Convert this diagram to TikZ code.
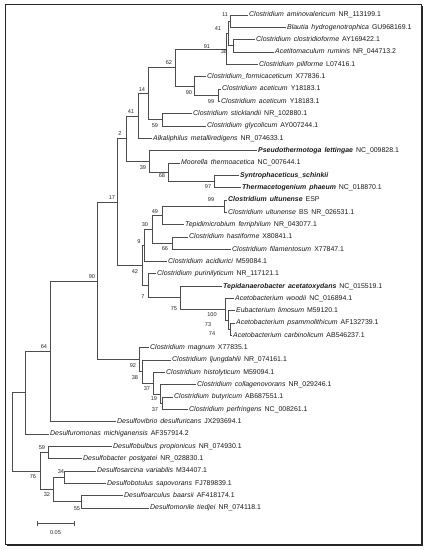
\documentclass[tikz,border=0pt]{standalone}
\usepackage{fontspec}
\setmainfont{Liberation Sans}
\newcommand\leaffont{\fontsize{6.95}{8}\selectfont\spaceskip 3pt plus 1pt minus 0.5pt\relax}
\begin{document}
\begin{tikzpicture}[x=1pt,y=-1pt,
  declare function={yy(\i)=15+(\i-1)*12.325;},
  br/.style={draw=black!70, line width=0.7pt},
  leaf/.style={anchor=west, inner sep=1.5pt, text height=5pt, text depth=1.3pt, font=\leaffont, text=black!90},
  bs/.style={inner sep=0pt, font=\fontsize{5.6}{6}\selectfont, text=black!85}]
\newcommand\mybr[2]{\draw[br] (#1) |- (#2);}
\useasboundingbox (0,0) rectangle (426,550);
\draw[line width=0.8pt, black!85] (5,4) rectangle (421,544);
\draw[line width=1pt, black!85] (422,6) -- (422,545) -- (7,545);
% leaves
\node[leaf] (l1) at (247.5,{yy(1)}) {\textit{Clostridium aminovalericum} NR\_113199.1};
\node[leaf] (l2) at (285.5,{yy(2)}) {\textit{Blautia hydrogenotrophica} GU968169.1};
\node[leaf] (l3) at (254.5,{yy(3)}) {\textit{Clostridium clostridioforme} AY169422.1};
\node[leaf] (l4) at (273.5,{yy(4)}) {\textit{Acetitomaculum ruminis} NR\_044713.2};
\node[leaf] (l5) at (257.5,{yy(5)}) {\textit{Clostridium piliforme} L07416.1};
\node[leaf] (l6) at (205.5,{yy(6)}) {\textit{Clostridium\_formicaceticum} X77836.1};
\node[leaf] (l7) at (220.5,{yy(7)}) {\textit{Clostridium aceticum} Y18183.1};
\node[leaf] (l8) at (219.5,{yy(8)}) {\textit{Clostridium aceticum} Y18183.1};
\node[leaf] (l9) at (191.5,{yy(9)}) {\textit{Clostridium sticklandii} NR\_102880.1};
\node[leaf] (l10) at (205.5,{yy(10)}) {\textit{Clostridium glycolicum} AY007244.1};
\node[leaf] (l11) at (151.5,{yy(11)}) {\textit{Alkaliphilus metalliredigens} NR\_074633.1};
\node[leaf] (l12) at (256.5,{yy(12)}) {\textbf{\textit{Pseudothermotoga lettingae}} NC\_009828.1};
\node[leaf] (l13) at (179.5,{yy(13)}) {\textit{Moorella thermoacetica} NC\_007644.1};
\node[leaf] (l14) at (238.5,{yy(14)}) {\textbf{\textit{Syntrophaceticus\_schinkii}}};
\node[leaf] (l15) at (240.5,{yy(15)}) {\textbf{\textit{Thermacetogenium phaeum}} NC\_018870.1};
\node[leaf] (l16) at (226.5,{yy(16)}) {\textbf{\textit{Clostridium ultunense}} ESP};
\node[leaf] (l17) at (226.5,{yy(17)}) {\textit{Clostridium ultunense} BS NR\_026531.1};
\node[leaf] (l18) at (183.5,{yy(18)}) {\textit{Tepidimicrobium ferriphilum} NR\_043077.1};
\node[leaf] (l19) at (187.5,{yy(19)}) {\textit{Clostridium hastiforme} X80841.1};
\node[leaf] (l20) at (230.5,{yy(20)}) {\textit{Clostridium filamentosum} X77847.1};
\node[leaf] (l21) at (166.5,{yy(21)}) {\textit{Clostridium acidiurici} M59084.1};
\node[leaf] (l22) at (155.5,{yy(22)}) {\textit{Clostridium purinilyticum} NR\_117121.1};
\node[leaf] (l23) at (221.5,{yy(23)}) {\textbf{\textit{Tepidanaerobacter acetatoxydans}} NC\_015519.1};
\node[leaf] (l24) at (233.5,{yy(24)}) {\textit{Acetobacterium woodii} NC\_016894.1};
\node[leaf] (l25) at (234.5,{yy(25)}) {\textit{Eubacterium limosum} M59120.1};
\node[leaf] (l26) at (234.5,{yy(26)}) {\textit{Acetobacterium psammolithicum} AF132739.1};
\node[leaf] (l27) at (231.5,{yy(27)}) {\textit{Acetobacterium carbinolicum} AB546237.1};
\node[leaf] (l28) at (148.5,{yy(28)}) {\textit{Clostridium magnum} X77835.1};
\node[leaf] (l29) at (170.5,{yy(29)}) {\textit{Clostridium ljungdahlii} NR\_074161.1};
\node[leaf] (l30) at (164.5,{yy(30)}) {\textit{Clostridium histolyticum} M59094.1};
\node[leaf] (l31) at (195.5,{yy(31)}) {\textit{Clostridium collagenovorans} NR\_029246.1};
\node[leaf] (l32) at (172.5,{yy(32)}) {\textit{Clostridium butyricum} AB687551.1};
\node[leaf] (l33) at (187.5,{yy(33)}) {\textit{Clostridium perfringens} NC\_008261.1};
\node[leaf] (l34) at (115.5,{yy(34)}) {\textit{Desulfovibrio desulfuricans} JX293694.1};
\node[leaf] (l35) at (48.5,{yy(35)}) {\textit{Desulfuromonas michiganensis} AF357914.2};
\node[leaf] (l36) at (111.5,{yy(36)}) {\textit{Desulfobulbus propionicus} NR\_074930.1};
\node[leaf] (l37) at (81.5,{yy(37)}) {\textit{Desulfobacter postgatei} NR\_028830.1};
\node[leaf] (l38) at (95.5,{yy(38)}) {\textit{Desulfosarcina variabilis} M34407.1};
\node[leaf] (l39) at (105.5,{yy(39)}) {\textit{Desulfobotulus sapovorans} FJ789839.1};
\node[leaf] (l40) at (122.5,{yy(40)}) {\textit{Desulfoarculus baarsii} AF418174.1};
\node[leaf] (l41) at (148.5,{yy(41)}) {\textit{Desulfomonile tiedjei} NR\_074118.1};
% internal nodes
\coordinate (n11) at (230,{yy(1.5)});
\coordinate (n38a) at (233,{yy(3.5)});
\coordinate (n41a) at (228,{yy(2.5)});
\coordinate (n91) at (226,{yy(3.75)});
\coordinate (n99a) at (218,{yy(7.5)});
\coordinate (n90a) at (194,{yy(6.75)});
\coordinate (n62) at (175,{yy(5.25)});
\coordinate (n59a) at (162,{yy(9.5)});
\coordinate (n14) at (148,{yy(7.375)});
\coordinate (n41b) at (138,{yy(9.1875)});
\coordinate (n97) at (214,{yy(14.5)});
\coordinate (n68) at (168,{yy(13.75)});
\coordinate (n39) at (149,{yy(12.875)});
\coordinate (n2) at (126,{yy(11.03125)});
\coordinate (n99b) at (224,{yy(16.5)});
\coordinate (n49) at (162,{yy(17.25)});
\coordinate (n66) at (172,{yy(19.5)});
\coordinate (n30) at (152,{yy(18.375)});
\coordinate (n9) at (144,{yy(19.6875)});
\coordinate (n74) at (230,{yy(26.5)});
\coordinate (n73) at (228,{yy(25.75)});
\coordinate (n100) at (225,{yy(24.875)});
\coordinate (n75) at (180,{yy(23.9375)});
\coordinate (n7) at (148,{yy(22.96875)});
\coordinate (n42) at (142,{yy(21.328125)});
\coordinate (n17) at (117,{yy(16.1796875)});
\coordinate (n37c) at (162,{yy(32.5)});
\coordinate (n19) at (160,{yy(31.75)});
\coordinate (n37b) at (153,{yy(30.875)});
\coordinate (n38b) at (142,{yy(29.9375)});
\coordinate (n92) at (139,{yy(28.96875)});
\coordinate (n90b) at (97,{yy(22.57421875)});
\coordinate (n64) at (50,{yy(28.287)});
\coordinate (nA) at (25,{yy(31.6435)});
\coordinate (n59b) at (48,{yy(36.5)});
\coordinate (n34) at (64,{yy(38.5)});
\coordinate (n55) at (81,{yy(40.5)});
\coordinate (n32) at (53,{yy(39.5)});
\coordinate (n76) at (40,{yy(38)});
\coordinate (root) at (12,{yy(34.82)});
% branches
\mybr{n11}{l1.west} \mybr{n11}{l2.west}
\mybr{n38a}{l3.west} \mybr{n38a}{l4.west}
\mybr{n41a}{n11} \mybr{n41a}{n38a}
\mybr{n91}{n41a} \mybr{n91}{l5.west}
\mybr{n99a}{l7.west} \mybr{n99a}{l8.west}
\mybr{n90a}{l6.west} \mybr{n90a}{n99a}
\mybr{n62}{n91} \mybr{n62}{n90a}
\mybr{n59a}{l9.west} \mybr{n59a}{l10.west}
\mybr{n14}{n62} \mybr{n14}{n59a}
\mybr{n41b}{n14} \mybr{n41b}{l11.west}
\mybr{n97}{l14.west} \mybr{n97}{l15.west}
\mybr{n68}{l13.west} \mybr{n68}{n97}
\mybr{n39}{l12.west} \mybr{n39}{n68}
\mybr{n2}{n41b} \mybr{n2}{n39}
\mybr{n99b}{l16.west} \mybr{n99b}{l17.west}
\mybr{n49}{n99b} \mybr{n49}{l18.west}
\mybr{n66}{l19.west} \mybr{n66}{l20.west}
\mybr{n30}{n49} \mybr{n30}{n66}
\mybr{n9}{n30} \mybr{n9}{l21.west}
\mybr{n74}{l26.west} \mybr{n74}{l27.west}
\mybr{n73}{l25.west} \mybr{n73}{n74}
\mybr{n100}{l24.west} \mybr{n100}{n73}
\mybr{n75}{l23.west} \mybr{n75}{n100}
\mybr{n7}{l22.west} \mybr{n7}{n75}
\mybr{n42}{n9} \mybr{n42}{n7}
\mybr{n17}{n2} \mybr{n17}{n42}
\mybr{n37c}{l32.west} \mybr{n37c}{l33.west}
\mybr{n19}{l31.west} \mybr{n19}{n37c}
\mybr{n37b}{l30.west} \mybr{n37b}{n19}
\mybr{n38b}{l29.west} \mybr{n38b}{n37b}
\mybr{n92}{l28.west} \mybr{n92}{n38b}
\mybr{n90b}{n17} \mybr{n90b}{n92}
\mybr{n64}{n90b} \mybr{n64}{l34.west}
\mybr{nA}{n64} \mybr{nA}{l35.west}
\mybr{n59b}{l36.west} \mybr{n59b}{l37.west}
\mybr{n34}{l38.west} \mybr{n34}{l39.west}
\mybr{n55}{l40.west} \mybr{n55}{l41.west}
\mybr{n32}{n34} \mybr{n32}{n55}
\mybr{n76}{n59b} \mybr{n76}{n32}
\mybr{root}{nA} \mybr{root}{n76}
% bootstrap values
\node[bs] (b11) at (225,15) {11};
\node[bs] (b41a) at (218,29) {41};
\node[bs] (b91) at (207,47) {91};
\node[bs] (b38a) at (224,52) {38};
\node[bs] (b62) at (169,63) {62};
\node[bs] (b90a) at (189,93) {90};
\node[bs] (b99a) at (211,102) {99};
\node[bs] (b14) at (142,90) {14};
\node[bs] (b41b) at (131,112) {41};
\node[bs] (b59a) at (155,126) {59};
\node[bs] (b2) at (120,134) {2};
\node[bs] (b39) at (143,168) {39};
\node[bs] (b68) at (162,176) {68};
\node[bs] (b97) at (208,187) {97};
\node[bs] (b17) at (112,198) {17};
\node[bs] (b99b) at (211,200) {99};
\node[bs] (b49) at (155,212) {49};
\node[bs] (b30) at (145,225) {30};
\node[bs] (b9) at (139,242) {9};
\node[bs] (b66) at (165,249) {66};
\node[bs] (b42) at (135,272) {42};
\node[bs] (b7) at (143,297) {7};
\node[bs] (b75) at (174,309) {75};
\node[bs] (b100) at (212,315) {100};
\node[bs] (b73) at (208,325) {73};
\node[bs] (b74) at (212,334) {74};
\node[bs] (b92) at (133,366) {92};
\node[bs] (b38b) at (135,378) {38};
\node[bs] (b37b) at (147,389) {37};
\node[bs] (b19) at (154,399) {19};
\node[bs] (b37c) at (155,410) {37};
\node[bs] (b90b) at (92,277) {90};
\node[bs] (b64) at (44,347) {64};
\node[bs] (b59b) at (42,448) {59};
\node[bs] (b76) at (33,477) {76};
\node[bs] (b34) at (61,472) {34};
\node[bs] (b32) at (47,495) {32};
\node[bs] (b55) at (77,509) {55};
% scale bar
\coordinate (sbL) at (37,523);
\coordinate (sbR) at (74,523);
\draw[br] (sbL) -- (sbR);
\draw[br] ([yshift=-2.5pt]sbL) -- ([yshift=2.5pt]sbL);
\draw[br] ([yshift=-2.5pt]sbR) -- ([yshift=2.5pt]sbR);
\node[bs] (sbt) at (55.5,533) {0.05};
\end{tikzpicture}
\end{document}
